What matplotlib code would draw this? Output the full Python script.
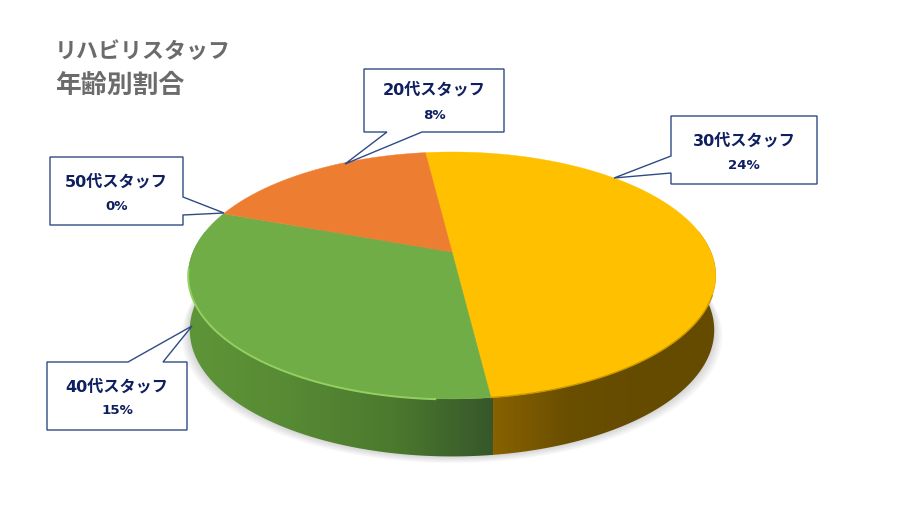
import matplotlib
matplotlib.use("Agg")
import matplotlib.pyplot as plt
import numpy as np
from matplotlib.colors import LinearSegmentedColormap
from matplotlib.patches import Polygon

plt.rcParams['font.family'] = ['DejaVu Sans', 'Noto Sans CJK JP']

title_lines = ["リハビリスタッフ", "年齢別割合"]
categories = ["30代スタッフ", "40代スタッフ", "50代スタッフ", "20代スタッフ"]
percents = [24, 15, 0, 8]
# slice sizes as drawn (the labels do not add up to 100)
shares = [50, 32.5, 0, 17.5]
top_colors = ["#ffc000", "#70ad47", "#a5a5a5", "#ed7d31"]
side_ramps = [["#8a6200", "#6a4f00", "#654b00", "#664c00"],
              ["#5f9539", "#578a34", "#4c7a2e", "#37572a"],
              ["#777777", "#777777", "#777777", "#777777"],
              ["#a0521f", "#a0521f", "#a0521f", "#a0521f"]]
# callout box (left, top, right, bottom), pointer tip and the two base points
boxes = [(671, 117, 817, 185), (47, 363, 187, 431), (50, 158, 183, 226), (364, 70, 504, 133)]
tips = [(614, 179), (192, 327), (224, 214), (345, 165)]
bases = [[(671, 174), (671, 157)], [(128, 363), (163, 363)],
         [(183, 198), (183, 216)], [(422, 133), (387, 133)]]

cx, cy = 452, 253
a, b, k = 259, 119, 0.19
start = -7
wall = 54


def project(deg, depth=0):
    t = np.radians(deg)
    u = np.sin(t)
    v = np.cos(t)
    f = 1 / (1 + k * v)
    x = cx + a * u * f * (1 - 0.006 * (depth > 0))
    y = cy - b * v * f + depth * (1 - 0.065 * v)
    return x, y


def arc(d0, d1, depth=0):
    angs = np.linspace(d0, d1, max(int(abs(d1 - d0) * 2), 2))
    x, y = project(angs, depth=depth)
    return np.column_stack([x, y])


fig = plt.figure(figsize=(9, 5.06), dpi=100)
ax = fig.add_axes([0, 0, 1, 1])
ax.set_xlim(0, 900)
ax.set_ylim(506, 0)
ax.axis("off")

sweeps = 360 * np.array(shares) / sum(shares)
edges = start + np.concatenate([[0], np.cumsum(sweeps)])

# soft shadow under the disc
for i in range(9):
    pts = arc(0, 360, depth=wall + i * 0.8)
    pts[:, 0] = cx + (pts[:, 0] - cx) * (1 + i * 0.004)
    ax.add_patch(Polygon(pts, fc="#000000", ec="none", alpha=0.018, zorder=1))

# side wall
for i in range(len(shares)):
    d0 = max(edges[i], 80)
    d1 = min(edges[i + 1], 280)
    if d1 <= d0:
        continue
    poly = np.vstack([arc(d0 - 0.4, d1), arc(d0 - 0.4, d1, depth=wall)[::-1]])
    patch = Polygon(poly, fc="none", ec="none", zorder=2)
    ax.add_patch(patch)
    x0, x1 = poly[:, 0].min(), poly[:, 0].max()
    cmap = LinearSegmentedColormap.from_list("side", side_ramps[i])
    grad = np.linspace(0, 1, 256).reshape(1, -1)
    if i == 1:
        # green gets darker towards the seam, which is on its right
        grad = grad[:, ::1]
    im = ax.imshow(grad, cmap=cmap, extent=(x0, x1, 480, 200), aspect="auto", zorder=2)
    im.set_clip_path(patch)
ax.set_xlim(0, 900)
ax.set_ylim(506, 0)

# top of the disc
for i in range(len(shares)):
    if shares[i] == 0:
        continue
    pts = np.vstack([[cx, cy], arc(edges[i], edges[i + 1])])
    ax.add_patch(Polygon(pts, fc=top_colors[i], ec=top_colors[i], lw=0.3, zorder=3))

# light rim on the green part, dark one on the yellow part
rim = arc(edges[1] + 10, 262)
ax.plot(rim[:, 0], rim[:, 1] + 0.5, color="#93d060", lw=1.4, zorder=4)
rim = arc(110, edges[1])
ax.plot(rim[:, 0], rim[:, 1], color="#c99700", lw=1.0, zorder=4)

# callouts
for i in range(len(categories)):
    l, t, r, btm = boxes[i]
    corners = {"left": [(l, btm), (l, t)], "top": [(l, t), (r, t)],
               "right": [(r, t), (r, btm)], "bottom": [(r, btm), (l, btm)]}
    b0, b1 = bases[i]
    if b0[0] == l:
        side = "left"
    elif b0[1] == t:
        side = "top"
    elif b0[0] == r:
        side = "right"
    else:
        side = "bottom"
    pts = []
    for s in ["left", "top", "right", "bottom"]:
        pts.extend(corners[s])
        if s == side:
            pts[-1:-1] = [b0, tips[i], b1]
    ax.add_patch(Polygon(pts, closed=True, fc="white", ec="#2f4b85", lw=1.0, zorder=5, joinstyle="miter"))
    mid = (l + r) / 2
    ax.text(mid, t + 24 if i != 3 else t + 20, categories[i], ha="center", va="center",
            color="#0f1f5f", fontsize=11.6, fontweight="bold", zorder=6)
    ax.text(mid, t + 48 if i != 3 else t + 45, "%d%%" % percents[i], ha="center", va="center",
            color="#0f1f5f", fontsize=9.6, fontweight="bold", zorder=6)

# title
ax.text(55, 52, title_lines[0], ha="left", va="center", color="#6b6b6b", fontsize=15.8, fontweight="bold")
ax.text(55, 86, title_lines[1], ha="left", va="center", color="#6b6b6b", fontsize=18.6, fontweight="bold")

fig.savefig("out.png", dpi=100)
